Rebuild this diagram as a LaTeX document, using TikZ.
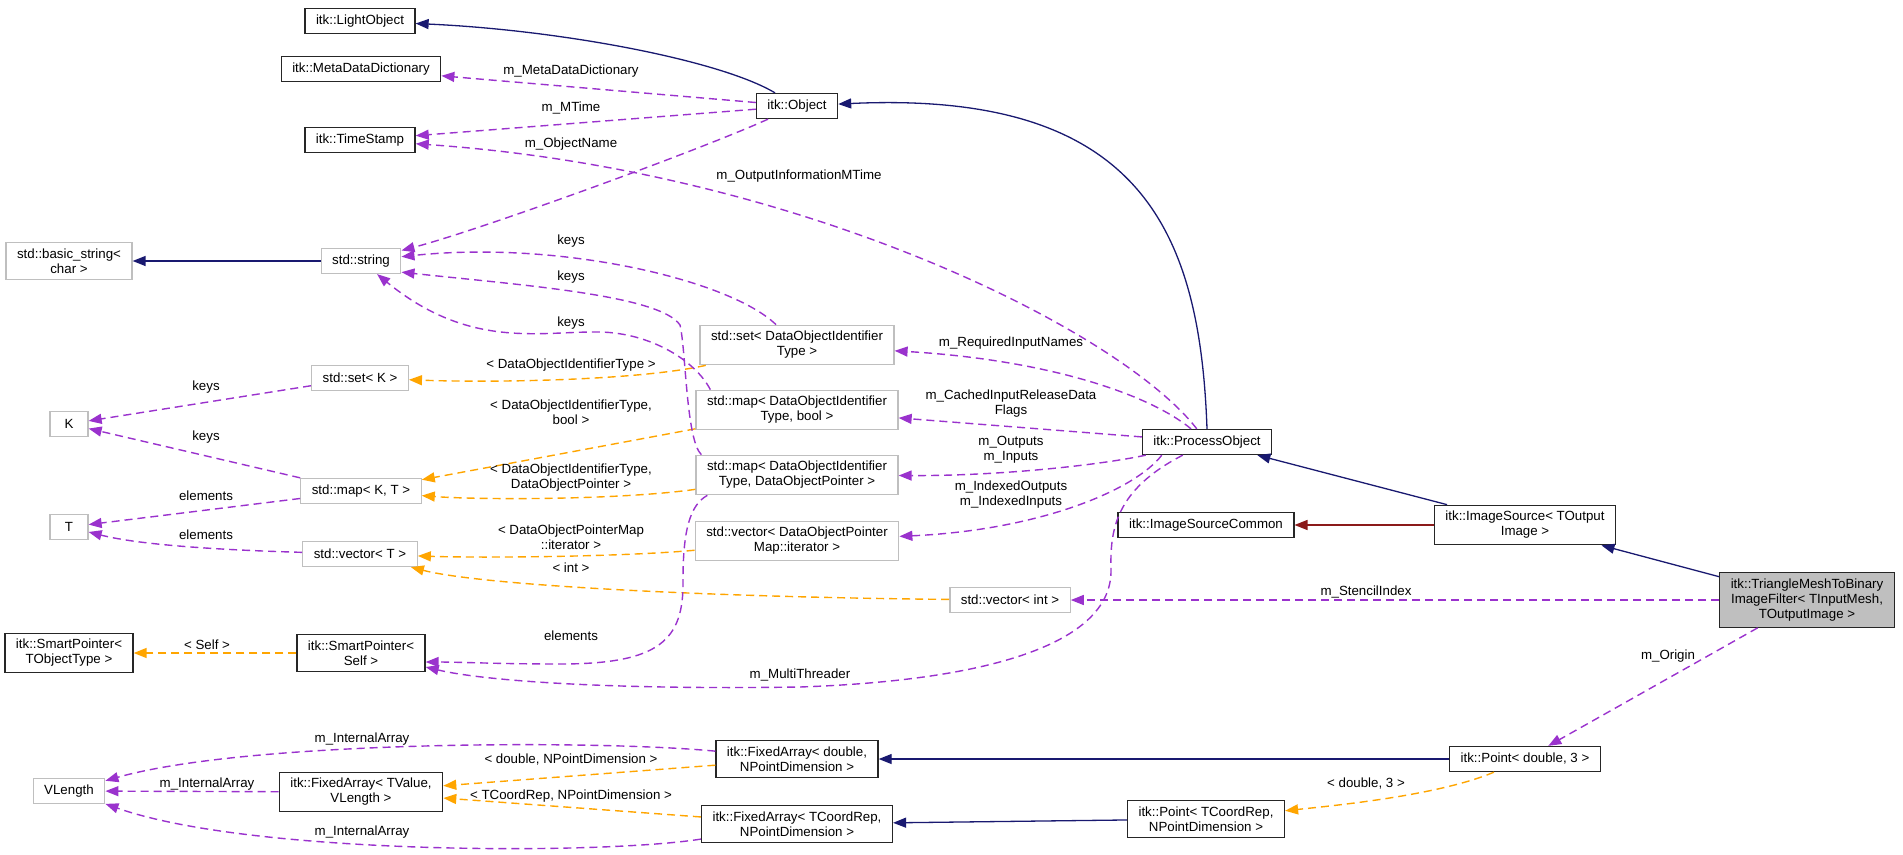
\documentclass[tikz,border=0pt]{standalone}
\usepackage{fontspec}
\setmainfont{Liberation Sans}
\usetikzlibrary{arrows.meta}
\definecolor{edgeblue}{HTML}{191970}
\definecolor{edgepurple}{HTML}{9A32CD}
\definecolor{edgeorange}{HTML}{FFA500}
\definecolor{edgered}{HTML}{8B1A1A}
\definecolor{boxgray}{HTML}{BFBFBF}
\begin{document}
\begin{tikzpicture}[x=1pt, y=-1pt, font=\fontsize{13.3}{15}\selectfont,
    cls/.style={draw=black!85, line width=1.3pt, fill=white, align=center,
        inner xsep=11pt, inner ysep=6pt, minimum height=25pt},
    ext/.style={cls, draw=boxgray},
    lbl/.style={align=center, inner sep=0pt},
    tip/.style={-{Triangle[length=13pt,width=10pt]}},
    inh/.style={tip, draw=edgeblue, line width=1.3pt},
    priv/.style={tip, draw=edgered, line width=1.3pt},
    usg/.style={tip, draw=edgepurple, line width=1.4pt, dash pattern=on 8pt off 5pt},
    tpl/.style={tip, draw=edgeorange, line width=1.4pt, dash pattern=on 8pt off 5pt}]
    \useasboundingbox (0,0) rectangle (1903,854);
    % classes
    \node[cls] (lightobj) at (360,21) {itk::LightObject};
    \node[cls] (metadict) at (361,69) {itk::MetaDataDictionary};
    \node[cls] (timestamp) at (360,140) {itk::TimeStamp};
    \node[cls] (object) at (797,106) {itk::Object};
    \node[ext] (basicstr) at (69,261) {std::basic\_string<\\char >};
    \node[ext] (stdstr) at (361,261) {std::string};
    \node[ext] (setdoit) at (797,345) {std::set< DataObjectIdentifier\\Type >};
    \node[ext] (setk) at (360,378) {std::set< K >};
    \node[ext, minimum width=38pt] (nk) at (69,424) {K};
    \node[ext] (mapbool) at (797,410) {std::map< DataObjectIdentifier\\Type, bool >};
    \node[ext] (mapkt) at (361,491) {std::map< K, T >};
    \node[ext] (mapdop) at (797,475) {std::map< DataObjectIdentifier\\Type, DataObjectPointer >};
    \node[ext, minimum width=38pt] (nt) at (69,527) {T};
    \node[ext] (vecdop) at (797,541) {std::vector< DataObjectPointer\\Map::iterator >};
    \node[ext] (vect) at (360,554) {std::vector< T >};
    \node[ext] (vecint) at (1010,600) {std::vector< int >};
    \node[cls] (procobj) at (1207,442) {itk::ProcessObject};
    \node[cls] (srccommon) at (1206,525) {itk::ImageSourceCommon};
    \node[cls] (imgsrc) at (1525,525) {itk::ImageSource< TOutput\\Image >};
    \node[cls, fill=boxgray] (filter) at (1807,600) {itk::TriangleMeshToBinary\\ImageFilter< TInputMesh,\\TOutputImage >};
    \node[cls] (spobj) at (69,653) {itk::SmartPointer<\\TObjectType >};
    \node[cls] (spself) at (361,653) {itk::SmartPointer<\\Self >};
    \node[cls] (fadouble) at (797,759) {itk::FixedArray< double,\\NPointDimension >};
    \node[cls] (ptdouble) at (1525,759) {itk::Point< double, 3 >};
    \node[ext] (vlength) at (69,791) {VLength};
    \node[cls] (fatvalue) at (361,792) {itk::FixedArray< TValue,\\VLength >};
    \node[cls] (facoord) at (797,824) {itk::FixedArray< TCoordRep,\\NPointDimension >};
    \node[cls] (ptcoord) at (1206,819) {itk::Point< TCoordRep,\\NPointDimension >};
    % inheritance
    \draw[inh] (object) .. controls (720,60) and (560,30) .. (lightobj);
    \draw[inh] (procobj.north) .. controls (1200,230) and (1140,90) .. (object);
    \draw[inh] (imgsrc) -- (procobj);
    \draw[inh] (filter) -- (imgsrc);
    \draw[priv] (imgsrc) -- (srccommon);
    \draw[inh] (ptdouble) -- (fadouble);
    \draw[inh] (ptcoord) -- (facoord);
    \draw[inh] (stdstr) -- (basicstr);
    % template instances
    \draw[tpl] (spself) -- (spobj);
    \draw[tpl] (setdoit) .. controls (640,380) and (500,383) .. (setk);
    \draw[tpl] (mapbool) -- (mapkt);
    \draw[tpl] (mapdop) .. controls (620,500) and (480,500) .. (mapkt);
    \draw[tpl] (vecdop) .. controls (620,557) and (480,558) .. (vect);
    \draw[tpl] (vecint) .. controls (700,597) and (480,585) .. (vect);
    \draw[tpl] (fadouble) -- (fatvalue);
    \draw[tpl] (facoord) -- (fatvalue);
    \draw[tpl] (ptdouble) .. controls (1440,795) and (1340,805) .. (ptcoord);
    \node[lbl] (lself) at (207,645) {< Self >};
    \node[lbl] (lsetdoit) at (571,365) {< DataObjectIdentifierType >};
    \node[lbl] (lmapbool) at (571,412) {< DataObjectIdentifierType,\\bool >};
    \node[lbl] (lmapdop) at (571,478) {< DataObjectIdentifierType,\\DataObjectPointer >};
    \node[lbl] (lvecdop) at (571,537) {< DataObjectPointerMap\\::iterator >};
    \node[lbl] (lvecint) at (571,568) {< int >};
    \node[lbl] (lfadouble) at (571,760) {< double, NPointDimension >};
    \node[lbl] (lfacoord) at (571,796) {< TCoordRep, NPointDimension >};
    \node[lbl] (lptdouble) at (1366,784) {< double, 3 >};
    % members
    \draw[usg] (object) -- (metadict);
    \draw[usg] (object) -- (timestamp);
    \draw[usg] (object) .. controls (700,150) and (480,230) .. (stdstr);
    \draw[usg] (procobj) .. controls (1120,330) and (800,170) .. (timestamp);
    \draw[usg] (setdoit) .. controls (730,280) and (560,240) .. (stdstr);
    \draw[usg] ([xshift=6pt]mapdop.north west) .. controls (686,440) and (686,350) .. (680,325)
        .. controls (660,295) and (520,285) .. ([yshift=2pt]stdstr.south east);
    \draw[usg] ([xshift=15pt]mapbool.north west) .. controls (695,360) and (650,333) .. (600,332)
        .. controls (540,331) and (470,350) .. (stdstr);
    \draw[usg] (setk) -- (nk);
    \draw[usg] (mapkt.north west) -- (nk);
    \draw[usg] (mapkt) -- (nt);
    \draw[usg] (vect) .. controls (220,550) and (140,545) .. (nt);
    \draw[usg] (procobj) .. controls (1150,395) and (1050,360) .. (setdoit);
    \draw[usg] (procobj) -- (mapbool);
    \draw[usg] (procobj) .. controls (1100,465) and (1000,476) .. (mapdop);
    \draw[usg] ([xshift=20pt]procobj.south west) .. controls (1135,490) and (1040,530) .. (vecdop);
    \draw[usg] ([xshift=41pt]procobj.south west) .. controls (1115,490) and (1110,530) .. (1111,570)
        .. controls (1112,640) and (1000,680) .. (800,687)
        .. controls (600,690) and (480,680) .. ([yshift=-14pt]spself.east);
    \draw[usg] ([xshift=12pt]mapdop.south west) .. controls (690,505) and (683,530) .. (683,580)
        .. controls (684,640) and (660,664) .. (560,664)
        .. controls (500,664) and (460,662) .. ([yshift=-9pt]spself.east);
    \draw[usg] (filter) -- (vecint);
    \draw[usg] (filter) -- (ptdouble);
    \draw[usg] (fadouble) .. controls (600,740) and (250,740) .. (vlength);
    \draw[usg] (fatvalue) -- (vlength);
    \draw[usg] (facoord) .. controls (600,855) and (250,855) .. (vlength);
    \node[lbl] (lmeta) at (571,71) {m\_MetaDataDictionary};
    \node[lbl] (lmtime) at (571,108) {m\_MTime};
    \node[lbl] (lname) at (571,144) {m\_ObjectName};
    \node[lbl] (loutinfo) at (799,176) {m\_OutputInformationMTime};
    \node[lbl] (lkeysa) at (571,241) {keys};
    \node[lbl] (lkeysb) at (571,277) {keys};
    \node[lbl] (lkeysc) at (571,323) {keys};
    \node[lbl] (lkeysk) at (206,387) {keys};
    \node[lbl] (lkeyskt) at (206,437) {keys};
    \node[lbl] (lelemkt) at (206,496) {elements};
    \node[lbl] (lelemt) at (206,535) {elements};
    \node[lbl] (lreq) at (1011,343) {m\_RequiredInputNames};
    \node[lbl] (lcached) at (1011,404) {m\_CachedInputReleaseData\\Flags};
    \node[lbl] (lio) at (1011,450) {m\_Outputs\\m\_Inputs};
    \node[lbl] (lidx) at (1011,495) {m\_IndexedOutputs\\m\_IndexedInputs};
    \node[lbl] (lelemsp) at (571,636) {elements};
    \node[lbl] (lthreader) at (800,675) {m\_MultiThreader};
    \node[lbl] (lstencil) at (1366,592) {m\_StencilIndex};
    \node[lbl] (lorigin) at (1668,656) {m\_Origin};
    \node[lbl] (linta) at (362,739) {m\_InternalArray};
    \node[lbl] (lintb) at (207,784) {m\_InternalArray};
    \node[lbl] (lintc) at (362,832) {m\_InternalArray};
\end{tikzpicture}
\end{document}
